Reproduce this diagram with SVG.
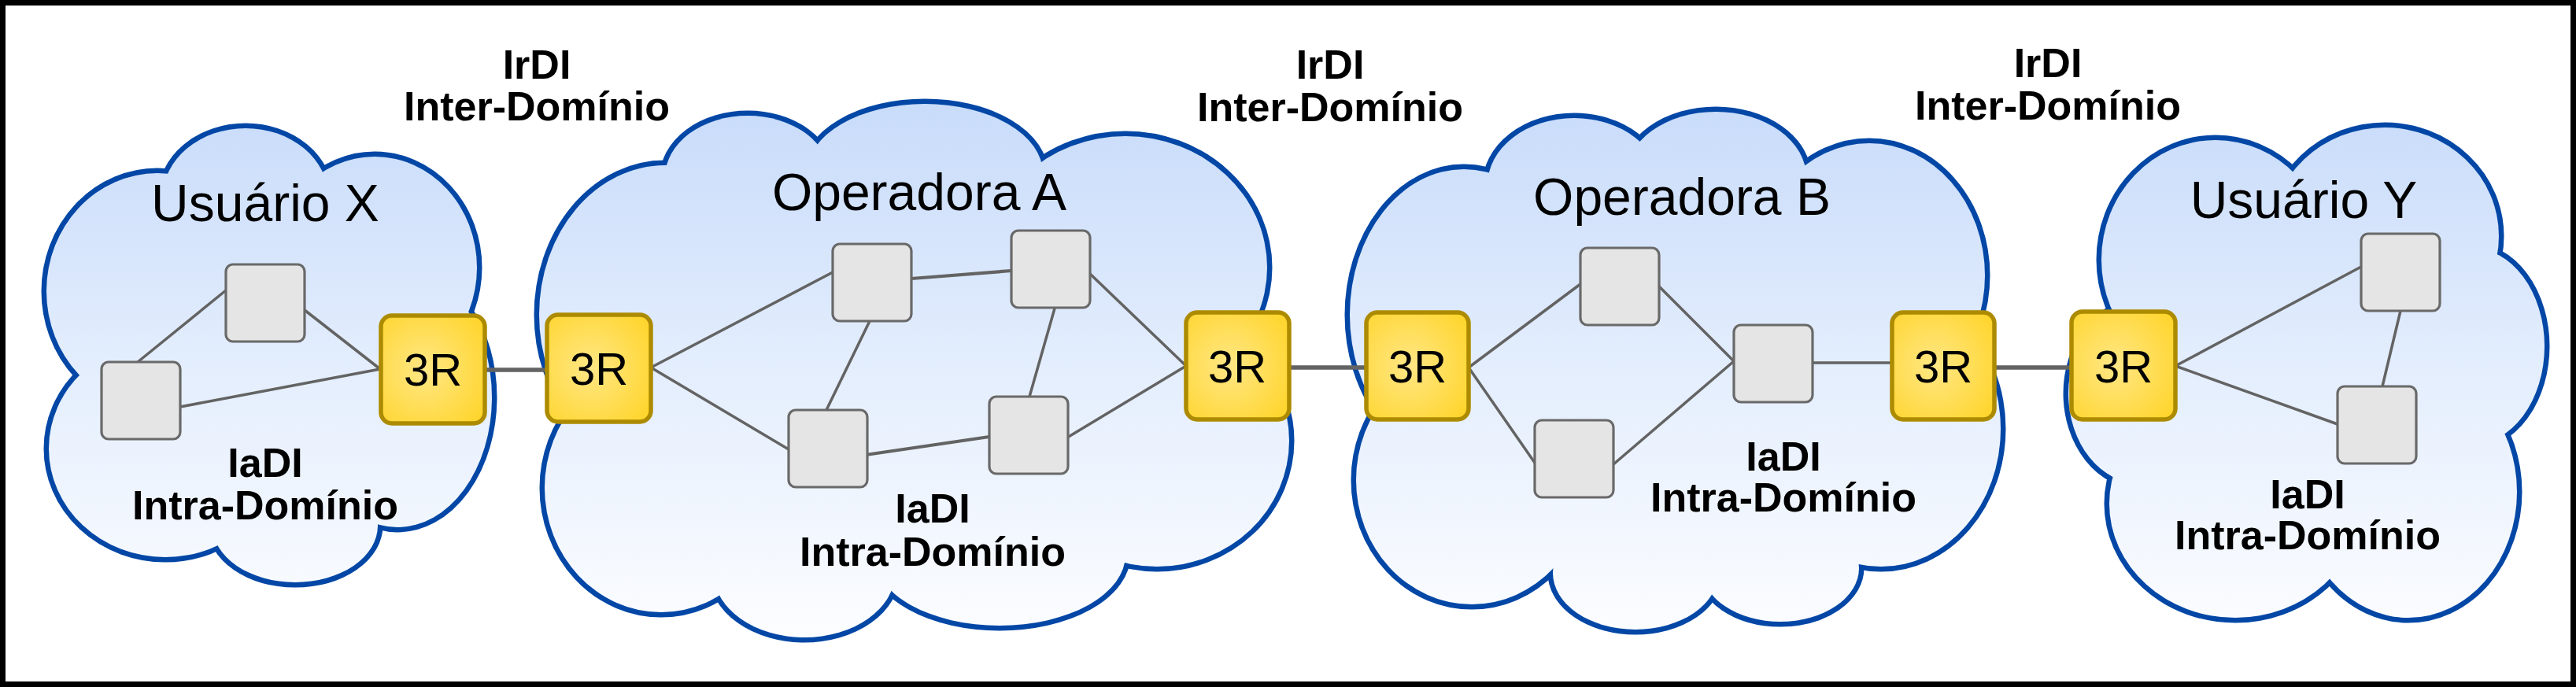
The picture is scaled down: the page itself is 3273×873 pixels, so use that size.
<svg xmlns="http://www.w3.org/2000/svg" xmlns:xlink="http://www.w3.org/1999/xlink" width="3273" height="873" viewBox="0 0 3273 873">
  <style>
    .cstroke { fill: none; stroke: #0347a6; stroke-width: 13; }
    .cfill { fill: url(#cloudGrad); stroke: none; }
    .node { fill: #e5e5e5; stroke: #696969; stroke-width: 3.2; }
    .r3 { fill: url(#goldGrad); stroke: #ad8b00; stroke-width: 5.5; }
    .edge { stroke: #636363; stroke-width: 3.5; stroke-linecap: round; fill: none; }
    .edge-thick { stroke: #636363; stroke-width: 4.2; stroke-linecap: round; fill: none; }
    .link { stroke: #636363; stroke-width: 5.5; stroke-linecap: round; fill: none; }
    .title { font-family: "Liberation Sans", Arial, sans-serif; font-size: 66px; fill: #000; text-anchor: middle; }
    .bold { font-family: "Liberation Sans", Arial, sans-serif; font-size: 52px; font-weight: bold; fill: #000; text-anchor: middle; }
    .r3t { font-family: "Liberation Sans", Arial, sans-serif; font-size: 58px; fill: #000; text-anchor: middle; }
  </style>
  <defs>
    <linearGradient id="cloudGrad" gradientUnits="userSpaceOnUse" x1="0" y1="140" x2="0" y2="810">
      <stop offset="0" stop-color="#c9dcfa"/>
      <stop offset="0.5" stop-color="#e4eefd"/>
      <stop offset="1" stop-color="#fcfdff"/>
    </linearGradient>
    <radialGradient id="goldGrad" cx="0.42" cy="0.5" r="0.7">
      <stop offset="0" stop-color="#ffe785"/>
      <stop offset="1" stop-color="#ffd52c"/>
    </radialGradient>
    <g id="shapeX">
      <ellipse cx="312" cy="250" rx="105" ry="87"/>
      <ellipse cx="476" cy="340" rx="130" ry="141"/>
      <ellipse cx="505" cy="505" rx="120" ry="165"/>
      <ellipse cx="375" cy="668" rx="105" ry="72"/>
      <ellipse cx="210" cy="570" rx="148" ry="138"/>
      <ellipse cx="200" cy="370" rx="141" ry="150"/>
    </g>
    <g id="shapeA">
      <ellipse cx="950" cy="225" rx="105" ry="78"/>
      <ellipse cx="1175" cy="220" rx="150" ry="88"/>
      <ellipse cx="1430" cy="340" rx="180" ry="167"/>
      <ellipse cx="1470" cy="560" rx="168" ry="160"/>
      <ellipse cx="1270" cy="705" rx="160" ry="90"/>
      <ellipse cx="1022" cy="728" rx="115" ry="82"/>
      <ellipse cx="840" cy="620" rx="148" ry="158"/>
      <ellipse cx="845" cy="400" rx="160" ry="190"/>
    </g>
    <g id="shapeB">
      <ellipse cx="2000" cy="235" rx="110" ry="85"/>
      <ellipse cx="2180" cy="225" rx="115" ry="83"/>
      <ellipse cx="2375" cy="350" rx="147" ry="168"/>
      <ellipse cx="2390" cy="545" rx="152" ry="175"/>
      <ellipse cx="2262" cy="722" rx="100" ry="68"/>
      <ellipse cx="2078" cy="728" rx="105" ry="72"/>
      <ellipse cx="1870" cy="610" rx="147" ry="158"/>
      <ellipse cx="1860" cy="400" rx="145" ry="185"/>
    </g>
    <g id="shapeY">
      <ellipse cx="2815" cy="330" rx="145" ry="152"/>
      <ellipse cx="3030" cy="300" rx="145" ry="138"/>
      <ellipse cx="3140" cy="440" rx="93" ry="125"/>
      <ellipse cx="3060" cy="625" rx="138" ry="160"/>
      <ellipse cx="2840" cy="640" rx="160" ry="145"/>
      <ellipse cx="2720" cy="500" rx="92" ry="115"/>
    </g>
  </defs>

  <rect x="0" y="0" width="3273" height="873" fill="#ffffff"/>
  <rect x="3.5" y="3.5" width="3266" height="866" fill="none" stroke="#000" stroke-width="7"/>

  <!-- Clouds (domains) -->
  <g id="cloud-usuario-x">
    <use xlink:href="#shapeX" class="cstroke"/>
    <use xlink:href="#shapeX" class="cfill"/>
    <ellipse class="cfill" cx="340" cy="450" rx="200" ry="200"/>
    <ellipse class="cfill" cx="360" cy="600" rx="170" ry="80"/>
    <text class="title" x="337" y="281">Usuário X</text>
    <text class="bold" x="337" y="606">IaDI</text>
    <text class="bold" x="337" y="660">Intra-Domínio</text>
  </g>
  <g id="cloud-operadora-a">
    <use xlink:href="#shapeA" class="cstroke"/>
    <use xlink:href="#shapeA" class="cfill"/>
    <ellipse class="cfill" cx="1160" cy="470" rx="330" ry="230"/>
    <ellipse class="cfill" cx="1150" cy="640" rx="290" ry="100"/>
    <text class="title" x="1168" y="267">Operadora A</text>
    <text class="bold" x="1185" y="664">IaDI</text>
    <text class="bold" x="1185" y="719">Intra-Domínio</text>
  </g>
  <g id="cloud-operadora-b">
    <use xlink:href="#shapeB" class="cstroke"/>
    <use xlink:href="#shapeB" class="cfill"/>
    <ellipse class="cfill" cx="2125" cy="470" rx="300" ry="220"/>
    <ellipse class="cfill" cx="2130" cy="625" rx="250" ry="110"/>
    <text class="title" x="2137" y="273">Operadora B</text>
    <text class="bold" x="2266" y="598">IaDI</text>
    <text class="bold" x="2266" y="650">Intra-Domínio</text>
  </g>
  <g id="cloud-usuario-y">
    <use xlink:href="#shapeY" class="cstroke"/>
    <use xlink:href="#shapeY" class="cfill"/>
    <ellipse class="cfill" cx="2930" cy="470" rx="230" ry="210"/>
    <ellipse class="cfill" cx="2940" cy="620" rx="200" ry="100"/>
    <text class="title" x="2927" y="277">Usuário Y</text>
    <text class="bold" x="2932" y="646">IaDI</text>
    <text class="bold" x="2932" y="698">Intra-Domínio</text>
  </g>

  <!-- Inter-domain labels -->
  <g id="label-irdi-1">
    <text class="bold" x="682" y="100">IrDI</text>
    <text class="bold" x="682" y="153">Inter-Domínio</text>
  </g>
  <g id="label-irdi-2">
    <text class="bold" x="1690" y="100">IrDI</text>
    <text class="bold" x="1690" y="154">Inter-Domínio</text>
  </g>
  <g id="label-irdi-3">
    <text class="bold" x="2602" y="98">IrDI</text>
    <text class="bold" x="2602" y="152">Inter-Domínio</text>
  </g>

  <!-- Connectors -->
  <g id="connectors">
    <line class="edge" x1="175" y1="460" x2="287" y2="369"/>
    <line class="edge" x1="387" y1="394" x2="483" y2="469"/>
    <line class="edge" x1="229" y1="517" x2="483" y2="469"/>
    <line class="link" x1="616" y1="470" x2="695" y2="470"/>

    <line class="edge" x1="827" y1="467" x2="1058" y2="346"/>
    <line class="edge" x1="827" y1="467" x2="1002" y2="571"/>
    <line class="edge-thick" x1="1158" y1="354" x2="1285" y2="344"/>
    <line class="edge" x1="1105" y1="408" x2="1050" y2="521"/>
    <line class="edge" x1="1340" y1="392" x2="1308" y2="504"/>
    <line class="edge-thick" x1="1100" y1="578" x2="1257" y2="555"/>
    <line class="edge" x1="1385" y1="348" x2="1507" y2="465"/>
    <line class="edge" x1="1356" y1="556" x2="1507" y2="465"/>
    <line class="link" x1="1638" y1="467" x2="1736" y2="467"/>

    <line class="edge" x1="1866" y1="467" x2="2008" y2="361"/>
    <line class="edge" x1="1866" y1="467" x2="1950" y2="588"/>
    <line class="edge" x1="2107" y1="363" x2="2203" y2="459"/>
    <line class="edge" x1="2050" y1="590" x2="2203" y2="459"/>
    <line class="edge" x1="2302" y1="461" x2="2404" y2="461"/>
    <line class="link" x1="2534" y1="467" x2="2632" y2="467"/>

    <line class="edge" x1="2764" y1="465" x2="3000" y2="339"/>
    <line class="edge" x1="2764" y1="465" x2="2970" y2="539"/>
    <line class="edge" x1="3050" y1="395" x2="3027" y2="491"/>
  </g>

  <!-- Nodes: Usuário X -->
  <g id="x-node-1"><rect class="node" x="287" y="336" width="100" height="98" rx="9"/></g>
  <g id="x-node-2"><rect class="node" x="129" y="460" width="100" height="98" rx="9"/></g>
  <g id="x-3r"><rect class="r3" x="484" y="401" width="132" height="137" rx="14"/><text class="r3t" x="550" y="490">3R</text></g>

  <!-- Nodes: Operadora A -->
  <g id="a-3r-in"><rect class="r3" x="695" y="400" width="132" height="136" rx="14"/><text class="r3t" x="761" y="489">3R</text></g>
  <g id="a-node-1"><rect class="node" x="1058" y="310" width="100" height="98" rx="9"/></g>
  <g id="a-node-2"><rect class="node" x="1285" y="293" width="100" height="98" rx="9"/></g>
  <g id="a-node-3"><rect class="node" x="1002" y="521" width="100" height="98" rx="9"/></g>
  <g id="a-node-4"><rect class="node" x="1257" y="504" width="100" height="98" rx="9"/></g>
  <g id="a-3r-out"><rect class="r3" x="1507" y="397" width="131" height="136" rx="14"/><text class="r3t" x="1572" y="486">3R</text></g>

  <!-- Nodes: Operadora B -->
  <g id="b-3r-in"><rect class="r3" x="1736" y="397" width="130" height="136" rx="14"/><text class="r3t" x="1801" y="486">3R</text></g>
  <g id="b-node-1"><rect class="node" x="2008" y="315" width="100" height="98" rx="9"/></g>
  <g id="b-node-2"><rect class="node" x="1950" y="534" width="100" height="98" rx="9"/></g>
  <g id="b-node-3"><rect class="node" x="2203" y="413" width="100" height="98" rx="9"/></g>
  <g id="b-3r-out"><rect class="r3" x="2404" y="397" width="130" height="136" rx="14"/><text class="r3t" x="2469" y="486">3R</text></g>

  <!-- Nodes: Usuário Y -->
  <g id="y-3r"><rect class="r3" x="2632" y="396" width="132" height="137" rx="14"/><text class="r3t" x="2698" y="486">3R</text></g>
  <g id="y-node-1"><rect class="node" x="3000" y="297" width="100" height="98" rx="9"/></g>
  <g id="y-node-2"><rect class="node" x="2970" y="491" width="100" height="98" rx="9"/></g>
</svg>
